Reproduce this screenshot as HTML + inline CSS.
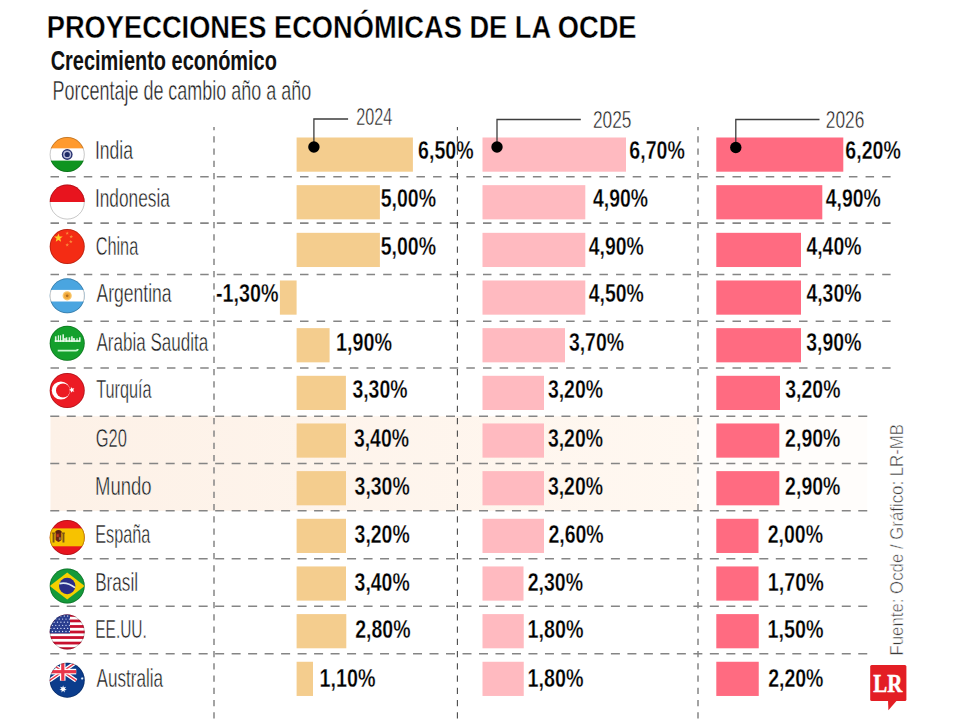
<!DOCTYPE html>
<html><head><meta charset="utf-8"><style>
html,body{margin:0;padding:0;background:#fff;width:960px;height:720px;overflow:hidden}
svg{display:block}
text{font-family:"Liberation Sans", sans-serif}
</style></head><body>
<svg width="960" height="720" viewBox="0 0 960 720">
<defs><linearGradient id="hg" x1="50" y1="0" x2="697" y2="0" gradientUnits="userSpaceOnUse"><stop offset="0" stop-color="#FDF1E7"/><stop offset="1" stop-color="#FFF8F1"/></linearGradient></defs>
<rect x="50.5" y="416.2" width="646.8" height="94.6" fill="url(#hg)"/>
<rect x="697.3" y="416.2" width="170" height="94.6" fill="#FFFDFB"/>
<g stroke="#858585" stroke-width="1.6">
<line x1="50.5" y1="176.7" x2="890.6" y2="176.7" stroke-dasharray="8.5 8.134"/>
<line x1="50.5" y1="223.1" x2="890.6" y2="223.1" stroke-dasharray="8.5 8.134"/>
<line x1="50.5" y1="274.5" x2="890.6" y2="274.5" stroke-dasharray="8.5 8.134"/>
<line x1="50.5" y1="321.3" x2="890.6" y2="321.3" stroke-dasharray="8.5 8.134"/>
<line x1="50.5" y1="368.0" x2="890.6" y2="368.0" stroke-dasharray="8.5 8.134"/>
<line x1="50.25" y1="416.2" x2="867.3" y2="416.2" stroke-dasharray="9 7.49"/>
<line x1="50.25" y1="463.5" x2="867.3" y2="463.5" stroke-dasharray="9 7.49"/>
<line x1="50.25" y1="510.8" x2="867.3" y2="510.8" stroke-dasharray="9 7.49"/>
<line x1="50.25" y1="558.7" x2="867.3" y2="558.7" stroke-dasharray="9 7.49"/>
<line x1="50.25" y1="606.3" x2="867.3" y2="606.3" stroke-dasharray="9 7.49"/>
<line x1="50.25" y1="653.7" x2="867.3" y2="653.7" stroke-dasharray="9 7.49"/>
</g>
<g stroke="#858585" stroke-width="1.5" stroke-dasharray="6.25 6.005" stroke-dashoffset="3">
<line x1="214.0" y1="127" x2="214.0" y2="720"/>
<line x1="698.0" y1="127" x2="698.0" y2="720"/>
<line x1="457.4" y1="127" x2="457.4" y2="720" stroke="#4a4a4a" stroke-width="1.1"/>
</g>
<rect x="296.60" y="137.50" width="116.30" height="34.2" fill="#F4CD8E"/>
<rect x="482.50" y="137.50" width="143.50" height="34.2" fill="#FFBAC0"/>
<rect x="716.30" y="137.50" width="127.00" height="34.2" fill="#FF6B81"/>
<rect x="296.60" y="185.16" width="83.30" height="34.2" fill="#F4CD8E"/>
<rect x="482.50" y="185.16" width="102.80" height="34.2" fill="#FFBAC0"/>
<rect x="716.30" y="185.16" width="106.00" height="34.2" fill="#FF6B81"/>
<rect x="296.60" y="232.82" width="83.30" height="34.2" fill="#F4CD8E"/>
<rect x="482.50" y="232.82" width="102.80" height="34.2" fill="#FFBAC0"/>
<rect x="716.30" y="232.82" width="84.70" height="34.2" fill="#FF6B81"/>
<rect x="279.90" y="280.48" width="16.70" height="34.2" fill="#F4CD8E"/>
<rect x="482.50" y="280.48" width="102.80" height="34.2" fill="#FFBAC0"/>
<rect x="716.30" y="280.48" width="84.70" height="34.2" fill="#FF6B81"/>
<rect x="296.60" y="328.14" width="33.00" height="34.2" fill="#F4CD8E"/>
<rect x="482.50" y="328.14" width="82.50" height="34.2" fill="#FFBAC0"/>
<rect x="716.30" y="328.14" width="84.70" height="34.2" fill="#FF6B81"/>
<rect x="296.60" y="375.80" width="49.30" height="34.2" fill="#F4CD8E"/>
<rect x="482.50" y="375.80" width="61.50" height="34.2" fill="#FFBAC0"/>
<rect x="716.30" y="375.80" width="63.70" height="34.2" fill="#FF6B81"/>
<rect x="296.60" y="423.46" width="49.40" height="34.2" fill="#F4CD8E"/>
<rect x="482.50" y="423.46" width="61.50" height="34.2" fill="#FFBAC0"/>
<rect x="716.30" y="423.46" width="63.00" height="34.2" fill="#FF6B81"/>
<rect x="296.60" y="471.12" width="49.40" height="34.2" fill="#F4CD8E"/>
<rect x="482.50" y="471.12" width="61.50" height="34.2" fill="#FFBAC0"/>
<rect x="716.30" y="471.12" width="63.00" height="34.2" fill="#FF6B81"/>
<rect x="296.60" y="518.78" width="49.40" height="34.2" fill="#F4CD8E"/>
<rect x="482.50" y="518.78" width="61.50" height="34.2" fill="#FFBAC0"/>
<rect x="716.30" y="518.78" width="42.20" height="34.2" fill="#FF6B81"/>
<rect x="296.60" y="566.44" width="49.40" height="34.2" fill="#F4CD8E"/>
<rect x="482.50" y="566.44" width="41.00" height="34.2" fill="#FFBAC0"/>
<rect x="716.30" y="566.44" width="42.20" height="34.2" fill="#FF6B81"/>
<rect x="296.60" y="614.10" width="49.70" height="34.2" fill="#F4CD8E"/>
<rect x="482.50" y="614.10" width="41.25" height="34.2" fill="#FFBAC0"/>
<rect x="716.30" y="614.10" width="42.45" height="34.2" fill="#FF6B81"/>
<rect x="296.60" y="661.76" width="16.40" height="34.2" fill="#F4CD8E"/>
<rect x="482.50" y="661.76" width="41.25" height="34.2" fill="#FFBAC0"/>
<rect x="716.30" y="661.76" width="42.45" height="34.2" fill="#FF6B81"/>
<clipPath id="fc0"><circle r="17.5"/></clipPath>
<g transform="translate(67.2 154.5)"><g clip-path="url(#fc0)"><rect x="-18" y="-18" width="36" height="12" fill="#FF9A2E"/>
<rect x="-18" y="-5.8" width="36" height="11.9" fill="#FFFFFF"/>
<rect x="-18" y="6.1" width="36" height="12" fill="#0F9420"/>
<circle r="5.4" fill="#26306E"/><circle r="4.0" fill="#B9BCDA"/><circle r="2.6" fill="#1E2A66"/></g><circle r="17.1" fill="none" stroke="#000" stroke-width="1" opacity="0.22"/></g>
<clipPath id="fc1"><circle r="17.5"/></clipPath>
<g transform="translate(67.2 202.0)"><g clip-path="url(#fc1)"><rect x="-18" y="-18" width="36" height="18" fill="#E8141E"/>
<rect x="-18" y="0" width="36" height="18" fill="#FFFFFF"/></g><circle r="17.1" fill="none" stroke="#000" stroke-width="1" opacity="0.22"/></g>
<clipPath id="fc2"><circle r="17.5"/></clipPath>
<g transform="translate(67.2 246.5)"><g clip-path="url(#fc2)"><rect x="-18" y="-18" width="36" height="36" fill="#F42C14"/><polygon points="-8.80,-13.10 -7.66,-10.06 -4.43,-9.92 -6.96,-7.90 -6.10,-4.78 -8.80,-6.57 -11.50,-4.78 -10.64,-7.90 -13.17,-9.92 -9.94,-10.06" fill="#FFCE2A"/><polygon points="0.00,-15.10 0.47,-13.85 1.81,-13.79 0.76,-12.95 1.12,-11.66 0.00,-12.40 -1.12,-11.66 -0.76,-12.95 -1.81,-13.79 -0.47,-13.85" fill="#FA8A3A"/><polygon points="4.00,-11.70 4.47,-10.45 5.81,-10.39 4.76,-9.55 5.12,-8.26 4.00,-9.00 2.88,-8.26 3.24,-9.55 2.19,-10.39 3.53,-10.45" fill="#FA8A3A"/><polygon points="3.60,-6.70 4.07,-5.45 5.41,-5.39 4.36,-4.55 4.72,-3.26 3.60,-4.00 2.48,-3.26 2.84,-4.55 1.79,-5.39 3.13,-5.45" fill="#FA8A3A"/><polygon points="0.00,-3.40 0.47,-2.15 1.81,-2.09 0.76,-1.25 1.12,0.04 0.00,-0.70 -1.12,0.04 -0.76,-1.25 -1.81,-2.09 -0.47,-2.15" fill="#FA8A3A"/></g><circle r="17.1" fill="none" stroke="#000" stroke-width="1" opacity="0.22"/></g>
<clipPath id="fc3"><circle r="17.5"/></clipPath>
<g transform="translate(67.2 295.8)"><g clip-path="url(#fc3)"><rect x="-18" y="-18" width="36" height="36" fill="#4AA5E0"/>
<rect x="-18" y="-5.9" width="36" height="11.6" fill="#FFFFFF"/>
<circle r="4.6" fill="#F9C66A"/><circle r="3.2" fill="#F2A93B"/><circle r="1.4" fill="#A0621A" opacity="0.8"/></g><circle r="17.1" fill="none" stroke="#000" stroke-width="1" opacity="0.22"/></g>
<clipPath id="fc4"><circle r="17.5"/></clipPath>
<g transform="translate(67.2 343.3)"><g clip-path="url(#fc4)"><rect x="-18" y="-18" width="36" height="36" fill="#14A02C"/><rect x="-12.5" y="-3.0" width="25" height="1.5" fill="#F2FFF2"/><rect x="-12.30" y="-7.00" width="1.6" height="5.5" fill="#F2FFF2" opacity="0.9"/><rect x="-9.40" y="-8.00" width="1.3" height="6.5" fill="#F2FFF2" opacity="0.9"/><rect x="-7.20" y="-8.00" width="1.1" height="6.5" fill="#F2FFF2" opacity="0.9"/><rect x="-4.80" y="-9.00" width="1.6" height="7.5" fill="#F2FFF2" opacity="0.9"/><circle cx="-2.30" cy="-4.20" r="1.2" fill="#F2FFF2" opacity="0.8"/><rect x="-1.50" y="-6.00" width="1.6" height="4.5" fill="#F2FFF2" opacity="0.9"/><rect x="1.40" y="-6.00" width="1.6" height="4.5" fill="#F2FFF2" opacity="0.9"/><rect x="3.90" y="-7.00" width="1.6" height="5.5" fill="#F2FFF2" opacity="0.9"/><circle cx="6.40" cy="-4.20" r="1.2" fill="#F2FFF2" opacity="0.8"/><rect x="6.40" y="-5.00" width="1.1" height="3.5" fill="#F2FFF2" opacity="0.9"/><rect x="9.20" y="-5.00" width="1.3" height="3.5" fill="#F2FFF2" opacity="0.9"/><rect x="11.80" y="-6.00" width="1.6" height="4.5" fill="#F2FFF2" opacity="0.9"/><path d="M-9.5,7.3 H8.8 Q10.5,7.3 10.5,5.8" stroke="#C8F7CF" stroke-width="1.9" fill="none"/></g><circle r="17.1" fill="none" stroke="#000" stroke-width="1" opacity="0.22"/></g>
<clipPath id="fc5"><circle r="17.5"/></clipPath>
<g transform="translate(67.2 390.5)"><g clip-path="url(#fc5)"><rect x="-18" y="-18" width="36" height="36" fill="#EC1B24"/><circle cx="-6.3" cy="0" r="9.1" fill="#FFFFFF"/><circle cx="-4.2" cy="0" r="7.0" fill="#EC1B24"/><polygon points="1.70,-0.60 3.61,-1.39 3.77,-3.45 5.12,-1.88 7.13,-2.36 6.05,-0.60 7.13,1.16 5.12,0.68 3.77,2.25 3.61,0.19" fill="#FFFFFF"/></g><circle r="17.1" fill="none" stroke="#000" stroke-width="1" opacity="0.22"/></g>
<clipPath id="fc8"><circle r="17.5"/></clipPath>
<g transform="translate(67.2 537.5)"><g clip-path="url(#fc8)"><rect x="-18" y="-18" width="36" height="36" fill="#E8141E"/>
<rect x="-18" y="-9.1" width="36" height="17.9" fill="#F7C200"/>
<path d="M-11.8,-6.2 Q-8.7,-8.6 -5.6,-6.2 L-5.6,-4.6 L-11.8,-4.6 Z" fill="#5A2010"/>
<path d="M-11.6,-4.4 H-5.8 V2.6 Q-8.7,6.2 -11.6,2.6 Z" fill="#6E2412"/>
<rect x="-10.6" y="-3.2" width="2.2" height="2.6" fill="#C23A22"/>
<rect x="-8.3" y="-0.2" width="1.9" height="2.6" fill="#8D7A52"/>
<rect x="-14.6" y="-4.2" width="1.9" height="9.2" fill="#5c3a1c" opacity="0.8"/>
<rect x="-4.7" y="-4.2" width="1.9" height="9.2" fill="#5c3a1c" opacity="0.8"/>
<rect x="-15.1" y="-5.0" width="2.9" height="1.2" fill="#5c3a1c" opacity="0.8"/>
<rect x="-5.2" y="-5.0" width="2.9" height="1.2" fill="#5c3a1c" opacity="0.8"/></g><circle r="17.1" fill="none" stroke="#000" stroke-width="1" opacity="0.22"/></g>
<clipPath id="fc9"><circle r="17.5"/></clipPath>
<g transform="translate(67.2 586.0)"><g clip-path="url(#fc9)"><rect x="-18" y="-18" width="36" height="36" fill="#149A3A"/>
<polygon points="0,-13.5 17.5,0 0,13.5 -17.5,0" fill="#F5D000"/>
<circle r="8.2" fill="#2B2E86"/>
<path d="M-7.8,-2.4 Q0,-4.4 7.8,1.6" stroke="#DDE8F4" stroke-width="1.7" fill="none"/></g><circle r="17.1" fill="none" stroke="#000" stroke-width="1" opacity="0.22"/></g>
<clipPath id="fc10"><circle r="17.5"/></clipPath>
<g transform="translate(67.2 632.0)"><g clip-path="url(#fc10)"><rect x="-18" y="-18" width="36" height="36" fill="#FFFFFF"/><rect x="-18" y="-18.00" width="36" height="2.77" fill="#C8102E"/><rect x="-18" y="-12.46" width="36" height="2.77" fill="#C8102E"/><rect x="-18" y="-6.92" width="36" height="2.77" fill="#C8102E"/><rect x="-18" y="-1.38" width="36" height="2.77" fill="#C8102E"/><rect x="-18" y="4.15" width="36" height="2.77" fill="#C8102E"/><rect x="-18" y="9.69" width="36" height="2.77" fill="#C8102E"/><rect x="-18" y="15.23" width="36" height="2.77" fill="#C8102E"/><rect x="-18" y="-18" width="20.8" height="19.38" fill="#2A3D8F"/><circle cx="-16.5" cy="-16.0" r="0.65" fill="#dfe6ff"/><circle cx="-13.1" cy="-16.0" r="0.65" fill="#dfe6ff"/><circle cx="-9.7" cy="-16.0" r="0.65" fill="#dfe6ff"/><circle cx="-6.3" cy="-16.0" r="0.65" fill="#dfe6ff"/><circle cx="-2.9" cy="-16.0" r="0.65" fill="#dfe6ff"/><circle cx="0.5" cy="-16.0" r="0.65" fill="#dfe6ff"/><circle cx="-14.8" cy="-12.9" r="0.65" fill="#dfe6ff"/><circle cx="-11.4" cy="-12.9" r="0.65" fill="#dfe6ff"/><circle cx="-8.0" cy="-12.9" r="0.65" fill="#dfe6ff"/><circle cx="-4.6" cy="-12.9" r="0.65" fill="#dfe6ff"/><circle cx="-1.2" cy="-12.9" r="0.65" fill="#dfe6ff"/><circle cx="2.2" cy="-12.9" r="0.65" fill="#dfe6ff"/><circle cx="-16.5" cy="-9.8" r="0.65" fill="#dfe6ff"/><circle cx="-13.1" cy="-9.8" r="0.65" fill="#dfe6ff"/><circle cx="-9.7" cy="-9.8" r="0.65" fill="#dfe6ff"/><circle cx="-6.3" cy="-9.8" r="0.65" fill="#dfe6ff"/><circle cx="-2.9" cy="-9.8" r="0.65" fill="#dfe6ff"/><circle cx="0.5" cy="-9.8" r="0.65" fill="#dfe6ff"/><circle cx="-14.8" cy="-6.7" r="0.65" fill="#dfe6ff"/><circle cx="-11.4" cy="-6.7" r="0.65" fill="#dfe6ff"/><circle cx="-8.0" cy="-6.7" r="0.65" fill="#dfe6ff"/><circle cx="-4.6" cy="-6.7" r="0.65" fill="#dfe6ff"/><circle cx="-1.2" cy="-6.7" r="0.65" fill="#dfe6ff"/><circle cx="2.2" cy="-6.7" r="0.65" fill="#dfe6ff"/><circle cx="-16.5" cy="-3.6" r="0.65" fill="#dfe6ff"/><circle cx="-13.1" cy="-3.6" r="0.65" fill="#dfe6ff"/><circle cx="-9.7" cy="-3.6" r="0.65" fill="#dfe6ff"/><circle cx="-6.3" cy="-3.6" r="0.65" fill="#dfe6ff"/><circle cx="-2.9" cy="-3.6" r="0.65" fill="#dfe6ff"/><circle cx="0.5" cy="-3.6" r="0.65" fill="#dfe6ff"/><circle cx="-14.8" cy="-0.5" r="0.65" fill="#dfe6ff"/><circle cx="-11.4" cy="-0.5" r="0.65" fill="#dfe6ff"/><circle cx="-8.0" cy="-0.5" r="0.65" fill="#dfe6ff"/><circle cx="-4.6" cy="-0.5" r="0.65" fill="#dfe6ff"/><circle cx="-1.2" cy="-0.5" r="0.65" fill="#dfe6ff"/><circle cx="2.2" cy="-0.5" r="0.65" fill="#dfe6ff"/></g><circle r="17.1" fill="none" stroke="#000" stroke-width="1" opacity="0.22"/></g>
<clipPath id="fc11"><circle r="17.5"/></clipPath>
<g transform="translate(67.2 680.2)"><g clip-path="url(#fc11)"><rect x="-18" y="-18" width="36" height="36" fill="#0B3C8C"/>
<path d="M-18,-18 L9,0.5 M9,-18 L-18,0.5" stroke="#FFFFFF" stroke-width="4"/>
<path d="M-18,-18 L9,0.5 M9,-18 L-18,0.5" stroke="#E8354A" stroke-width="1.4"/>
<rect x="-18" y="-11.4" width="27" height="5.6" fill="#FFFFFF"/><rect x="-7.3" y="-18" width="5.6" height="18.5" fill="#FFFFFF"/>
<rect x="-18" y="-10.1" width="27" height="3.2" fill="#E8354A"/><rect x="-6" y="-18" width="3.2" height="18.5" fill="#E8354A"/><polygon points="-4.10,5.10 -3.36,7.36 -1.13,6.53 -2.43,8.52 -0.40,9.75 -2.76,9.97 -2.45,12.32 -4.10,10.61 -5.75,12.32 -5.44,9.97 -7.80,9.75 -5.77,8.52 -7.07,6.53 -4.84,7.36" fill="#FFFFFF"/><polygon points="15.00,-3.30 15.35,-2.42 16.25,-2.70 15.78,-1.88 16.56,-1.34 15.63,-1.20 15.69,-0.26 15.00,-0.90 14.31,-0.26 14.37,-1.20 13.44,-1.34 14.22,-1.88 13.75,-2.70 14.65,-2.42" fill="#E6F4FF"/></g><circle r="17.1" fill="none" stroke="#000" stroke-width="1" opacity="0.22"/></g>
<path d="M313.9 147.0 V119.0 H348.1" fill="none" stroke="#3d3d3d" stroke-width="1.3"/>
<circle cx="313.9" cy="147.0" r="5.7" fill="#000"/>
<path d="M497.0 147.0 V119.5 H580.8" fill="none" stroke="#3d3d3d" stroke-width="1.3"/>
<circle cx="497.0" cy="147.0" r="5.7" fill="#000"/>
<path d="M735.8 147.5 V119.5 H819.5" fill="none" stroke="#3d3d3d" stroke-width="1.3"/>
<circle cx="735.8" cy="147.5" r="5.7" fill="#000"/>
<text transform="translate(46.73 37.50) scale(0.8572 1)" font-size="31.83" font-weight="bold" fill="#000" stroke="#fff" stroke-width="0.35">PROYECCIONES ECONÓMICAS DE LA OCDE</text>
<text transform="translate(50.70 69.70) scale(0.7385 1)" font-size="27.03" font-weight="bold" fill="#111">Crecimiento económico</text>
<text transform="translate(52.56 100.40) scale(0.6648 1)" font-size="27.03" font-weight="normal" fill="#1a1a1a" stroke="#fff" stroke-width="0.45">Porcentaje de cambio año a año</text>
<text transform="translate(356.29 124.50) scale(0.6651 1)" font-size="24.36" font-weight="normal" fill="#1a1a1a" stroke="#fff" stroke-width="0.45">2024</text>
<text transform="translate(592.93 127.50) scale(0.7121 1)" font-size="24.36" font-weight="normal" fill="#1a1a1a" stroke="#fff" stroke-width="0.45">2025</text>
<text transform="translate(825.83 127.70) scale(0.7121 1)" font-size="24.36" font-weight="normal" fill="#1a1a1a" stroke="#fff" stroke-width="0.45">2026</text>
<text transform="translate(94.92 159.20) scale(0.6644 1)" font-size="26.45" font-weight="normal" fill="#1a1a1a" stroke="#fff" stroke-width="0.45">India</text>
<text transform="translate(418.07 159.20) scale(0.7670 1)" font-size="25.50" font-weight="bold" fill="#000" stroke="#fff" stroke-width="0.3">6,50%</text>
<text transform="translate(629.32 159.20) scale(0.7670 1)" font-size="25.50" font-weight="bold" fill="#000" stroke="#fff" stroke-width="0.3">6,70%</text>
<text transform="translate(845.32 159.20) scale(0.7670 1)" font-size="25.50" font-weight="bold" fill="#000" stroke="#fff" stroke-width="0.3">6,20%</text>
<text transform="translate(94.94 206.60) scale(0.6536 1)" font-size="26.45" font-weight="normal" fill="#1a1a1a" stroke="#fff" stroke-width="0.45">Indonesia</text>
<text transform="translate(380.71 206.60) scale(0.7656 1)" font-size="25.50" font-weight="bold" fill="#000" stroke="#fff" stroke-width="0.3">5,00%</text>
<text transform="translate(593.01 206.60) scale(0.7615 1)" font-size="25.50" font-weight="bold" fill="#000" stroke="#fff" stroke-width="0.3">4,90%</text>
<text transform="translate(825.71 206.60) scale(0.7615 1)" font-size="25.50" font-weight="bold" fill="#000" stroke="#fff" stroke-width="0.3">4,90%</text>
<text transform="translate(95.69 254.60) scale(0.6156 1)" font-size="26.45" font-weight="normal" fill="#1a1a1a" stroke="#fff" stroke-width="0.45">China</text>
<text transform="translate(380.71 254.60) scale(0.7656 1)" font-size="25.50" font-weight="bold" fill="#000" stroke="#fff" stroke-width="0.3">5,00%</text>
<text transform="translate(588.71 254.60) scale(0.7615 1)" font-size="25.50" font-weight="bold" fill="#000" stroke="#fff" stroke-width="0.3">4,90%</text>
<text transform="translate(806.41 254.60) scale(0.7615 1)" font-size="25.50" font-weight="bold" fill="#000" stroke="#fff" stroke-width="0.3">4,40%</text>
<text transform="translate(96.50 302.00) scale(0.6635 1)" font-size="26.45" font-weight="normal" fill="#1a1a1a" stroke="#fff" stroke-width="0.45">Argentina</text>
<text transform="translate(216.01 302.00) scale(0.7731 1)" font-size="25.50" font-weight="bold" fill="#000" stroke="#fff" stroke-width="0.3">-1,30%</text>
<text transform="translate(588.71 302.00) scale(0.7615 1)" font-size="25.50" font-weight="bold" fill="#000" stroke="#fff" stroke-width="0.3">4,50%</text>
<text transform="translate(806.41 302.00) scale(0.7615 1)" font-size="25.50" font-weight="bold" fill="#000" stroke="#fff" stroke-width="0.3">4,30%</text>
<text transform="translate(96.50 350.60) scale(0.6439 1)" font-size="26.45" font-weight="normal" fill="#1a1a1a" stroke="#fff" stroke-width="0.45">Arabia Saudita</text>
<text transform="translate(336.02 350.60) scale(0.7739 1)" font-size="25.50" font-weight="bold" fill="#000" stroke="#fff" stroke-width="0.3">1,90%</text>
<text transform="translate(568.91 350.60) scale(0.7628 1)" font-size="25.50" font-weight="bold" fill="#000" stroke="#fff" stroke-width="0.3">3,70%</text>
<text transform="translate(806.31 350.60) scale(0.7628 1)" font-size="25.50" font-weight="bold" fill="#000" stroke="#fff" stroke-width="0.3">3,90%</text>
<text transform="translate(96.17 398.30) scale(0.6150 1)" font-size="26.45" font-weight="normal" fill="#1a1a1a" stroke="#fff" stroke-width="0.45">Turquía</text>
<text transform="translate(352.41 398.30) scale(0.7628 1)" font-size="25.50" font-weight="bold" fill="#000" stroke="#fff" stroke-width="0.3">3,30%</text>
<text transform="translate(547.91 398.30) scale(0.7628 1)" font-size="25.50" font-weight="bold" fill="#000" stroke="#fff" stroke-width="0.3">3,20%</text>
<text transform="translate(785.31 398.30) scale(0.7628 1)" font-size="25.50" font-weight="bold" fill="#000" stroke="#fff" stroke-width="0.3">3,20%</text>
<text transform="translate(95.68 446.50) scale(0.6234 1)" font-size="26.45" font-weight="normal" fill="#1a1a1a" stroke="#fff" stroke-width="0.45">G20</text>
<text transform="translate(353.91 446.50) scale(0.7628 1)" font-size="25.50" font-weight="bold" fill="#000" stroke="#fff" stroke-width="0.3">3,40%</text>
<text transform="translate(547.91 446.50) scale(0.7628 1)" font-size="25.50" font-weight="bold" fill="#000" stroke="#fff" stroke-width="0.3">3,20%</text>
<text transform="translate(785.11 446.50) scale(0.7656 1)" font-size="25.50" font-weight="bold" fill="#000" stroke="#fff" stroke-width="0.3">2,90%</text>
<text transform="translate(95.02 494.80) scale(0.6990 1)" font-size="26.45" font-weight="normal" fill="#1a1a1a" stroke="#fff" stroke-width="0.45">Mundo</text>
<text transform="translate(354.61 494.80) scale(0.7628 1)" font-size="25.50" font-weight="bold" fill="#000" stroke="#fff" stroke-width="0.3">3,30%</text>
<text transform="translate(547.91 494.80) scale(0.7628 1)" font-size="25.50" font-weight="bold" fill="#000" stroke="#fff" stroke-width="0.3">3,20%</text>
<text transform="translate(785.11 494.80) scale(0.7656 1)" font-size="25.50" font-weight="bold" fill="#000" stroke="#fff" stroke-width="0.3">2,90%</text>
<text transform="translate(95.20 542.80) scale(0.6134 1)" font-size="26.45" font-weight="normal" fill="#1a1a1a" stroke="#fff" stroke-width="0.45">España</text>
<text transform="translate(354.61 542.80) scale(0.7628 1)" font-size="25.50" font-weight="bold" fill="#000" stroke="#fff" stroke-width="0.3">3,20%</text>
<text transform="translate(548.41 542.80) scale(0.7656 1)" font-size="25.50" font-weight="bold" fill="#000" stroke="#fff" stroke-width="0.3">2,60%</text>
<text transform="translate(767.71 542.80) scale(0.7656 1)" font-size="25.50" font-weight="bold" fill="#000" stroke="#fff" stroke-width="0.3">2,00%</text>
<text transform="translate(95.13 590.60) scale(0.6492 1)" font-size="26.45" font-weight="normal" fill="#1a1a1a" stroke="#fff" stroke-width="0.45">Brasil</text>
<text transform="translate(354.61 590.60) scale(0.7628 1)" font-size="25.50" font-weight="bold" fill="#000" stroke="#fff" stroke-width="0.3">3,40%</text>
<text transform="translate(527.71 590.60) scale(0.7656 1)" font-size="25.50" font-weight="bold" fill="#000" stroke="#fff" stroke-width="0.3">2,30%</text>
<text transform="translate(767.82 590.60) scale(0.7739 1)" font-size="25.50" font-weight="bold" fill="#000" stroke="#fff" stroke-width="0.3">1,70%</text>
<text transform="translate(95.26 638.20) scale(0.5850 1)" font-size="26.45" font-weight="normal" fill="#1a1a1a" stroke="#fff" stroke-width="0.45">EE.UU.</text>
<text transform="translate(355.21 638.20) scale(0.7656 1)" font-size="25.50" font-weight="bold" fill="#000" stroke="#fff" stroke-width="0.3">2,80%</text>
<text transform="translate(527.57 638.20) scale(0.7739 1)" font-size="25.50" font-weight="bold" fill="#000" stroke="#fff" stroke-width="0.3">1,80%</text>
<text transform="translate(767.57 638.20) scale(0.7739 1)" font-size="25.50" font-weight="bold" fill="#000" stroke="#fff" stroke-width="0.3">1,50%</text>
<text transform="translate(96.50 686.90) scale(0.6479 1)" font-size="26.45" font-weight="normal" fill="#1a1a1a" stroke="#fff" stroke-width="0.45">Australia</text>
<text transform="translate(319.62 686.90) scale(0.7739 1)" font-size="25.50" font-weight="bold" fill="#000" stroke="#fff" stroke-width="0.3">1,10%</text>
<text transform="translate(527.57 686.90) scale(0.7739 1)" font-size="25.50" font-weight="bold" fill="#000" stroke="#fff" stroke-width="0.3">1,80%</text>
<text transform="translate(768.16 686.90) scale(0.7656 1)" font-size="25.50" font-weight="bold" fill="#000" stroke="#fff" stroke-width="0.3">2,20%</text>
<text transform="translate(903 655.5) rotate(-90)" font-size="18.9" fill="#3a3a3a" stroke="#fff" stroke-width="0.5" textLength="231.5" lengthAdjust="spacingAndGlyphs">Fuente: Ocde / Gráfico: LR-MB</text>
<g>
<rect x="870.2" y="665" width="36.2" height="36.1" rx="1.5" fill="#E31E24"/>
<polygon points="888,700 897.3,700 888.4,710.2" fill="#E31E24"/>
<text transform="translate(873.3 691.7) scale(0.82 1)" style="font-family:'Liberation Serif', serif" font-size="25.5" font-weight="bold" fill="#fff" stroke="#fff" stroke-width="0.5">LR</text>
</g>
</svg>
</body></html>
